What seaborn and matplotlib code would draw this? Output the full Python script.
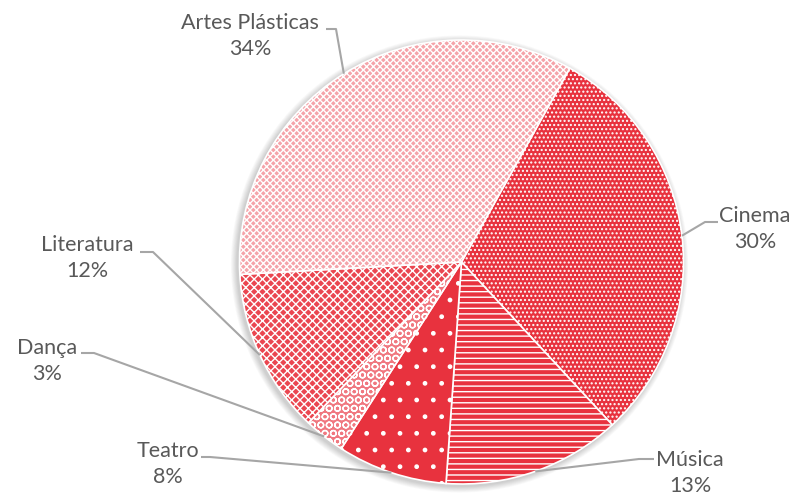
import numpy as np
import matplotlib
matplotlib.use("Agg")
import matplotlib.pyplot as plt
import seaborn as sns

# data (clockwise from Cinema)
categories = ["Cinema", "Música", "Teatro", "Dança", "Literatura", "Artes Plásticas"]
shares = [30, 13, 8, 3, 12, 34]

# styling per slice
face_colors = ["#E8323E", "#E8323E", "#E8323E", "#F07880", "#EA4650", "#F5A3A9"]
hatches = ["....", "---", ".", "OO", "xxxx", "xxxxx"]

# label layout in pixel coords (from top-left)
label_pos = {
    "Cinema": (755, 229), "Música": (690, 473), "Teatro": (168, 464),
    "Dança": (47, 361), "Literatura": (87, 258), "Artes Plásticas": (250, 36),
}
elbow_pos = {
    "Cinema": [(718, 222), (705, 222)], "Música": [(654, 459), (639, 459)],
    "Teatro": [(201, 457), (210, 457)], "Dança": [(81, 353), (94, 353)],
    "Literatura": [(140, 252), (153, 252)], "Artes Plásticas": [(326, 29), (336, 29)],
}

W, H = 794, 496
cx, cy, R = 461.5, H - 262, 222

sns.set_theme(style="white")
plt.rcParams['font.family'] = ['Lato', 'DejaVu Sans']
plt.rcParams['hatch.linewidth'] = 1.0

fig = plt.figure(figsize=(W / 100, H / 100), dpi=100)
ax = fig.add_axes([0, 0, 1, 1])

wedges, _ = ax.pie(shares, center=(cx, cy), radius=R, startangle=60.8,
                   counterclock=False, colors=face_colors,
                   wedgeprops=dict(edgecolor='white', linewidth=1.2))
for w, h in zip(wedges, hatches):
    w.set_hatch(h)
    w.set_zorder(2)

# soft shadow
for i in range(8):
    ax.add_patch(plt.Circle((cx - 2, cy - 2), R + 1 + i * 0.8, color='#000000',
                            alpha=0.025, lw=0, zorder=0))

for w, name, v in zip(wedges, categories, shares):
    mid = np.deg2rad((w.theta1 + w.theta2) / 2)
    ax_pt = (cx + R * np.cos(mid), cy + R * np.sin(mid))
    (x0, y0), (x1, y1) = elbow_pos[name]
    ax.plot([x0, x1, ax_pt[0]], [H - y0, H - y1, ax_pt[1]], color='#A6A6A6',
            lw=1.5, zorder=3, solid_capstyle='butt')
    lx, ly = label_pos[name]
    ax.text(lx, H - ly, f"{name}\n{v}%", ha='center', va='center',
            fontsize=15.5, color='#595959', linespacing=1.42, zorder=4)

ax.set_xlim(0, W)
ax.set_ylim(0, H)
ax.set_aspect('equal')
ax.axis('off')

fig.savefig("out.png", dpi=100)
